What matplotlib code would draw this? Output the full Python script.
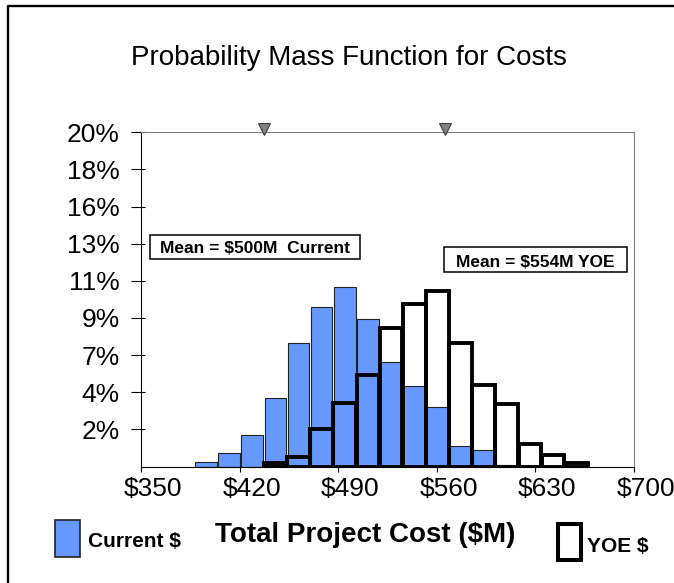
import matplotlib
matplotlib.use('Agg')
import matplotlib.pyplot as plt
from matplotlib.patches import Rectangle
from matplotlib.lines import Line2D
from matplotlib.ticker import FixedLocator
from matplotlib.transforms import ScaledTranslation, blended_transform_factory

plt.rcParams['font.family'] = ['Liberation Sans', 'DejaVu Sans']

W, H, DPI = 674, 583, 100

# bin centres ($M) and probability per bin (%)
bin_centers = [396.1, 412.5, 428.9, 445.4, 461.8, 478.3, 494.7, 511.1, 527.5,
               544.0, 560.4, 576.8, 593.3, 609.7, 626.1, 642.6, 659.0]
current_pct = [0.25, 0.81, 1.87, 4.08, 7.39, 9.53, 10.76, 8.85, 6.25,
               4.84, 3.54, 1.23, 0.99, 0.1, 0, 0, 0]
yoe_pct = [0, 0, 0, 0.2, 0.57, 2.26, 3.82, 5.46, 8.29,
           9.74, 10.49, 7.37, 4.86, 3.74, 1.36, 0.71, 0.2]
mean_marker_x = [437.5, 566.0]
mean_labels = ['Mean = $500M  Current', 'Mean = $554M YOE']
x_ticks = [350, 420, 490, 560, 630, 700]
y_ticks = [20 / 9 * k for k in range(1, 10)]

blue = '#6699ff'


def fx(px):
    return px / W


def fy(py):
    return 1 - py / H


fig = plt.figure(figsize=(W / DPI, H / DPI), dpi=DPI)
ax = fig.add_axes([fx(141), fy(466.5), 493 / W, 334.2 / H])

# Current $ bars
xc = [x for x, v in zip(bin_centers, current_pct) if v > 0]
hc = [v for v in current_pct if v > 0]
ax.bar(xc, hc, width=15.3, color=blue, edgecolor='#222222', linewidth=0.8, zorder=2)

# YOE $ bars (hollow, thick outline, on top)
xy = [x for x, v in zip(bin_centers, yoe_pct) if v > 0]
hy = [v for v in yoe_pct if v > 0]
ax.bar(xy, hy, width=16.1, fill=False, edgecolor='black', linewidth=2.8, zorder=3)

ax.set_xlim(350, 700)
ax.set_ylim(0, 20)

for s in ['top', 'right']:
    ax.spines[s].set_color('#808080')
    ax.spines[s].set_linewidth(0.8)
for s in ['left', 'bottom']:
    ax.spines[s].set_color('black')
    ax.spines[s].set_linewidth(0.8)

ax.set_yticks(y_ticks)
ax.set_yticklabels(['%.0f%%' % v for v in y_ticks])
ax.yaxis.set_minor_locator(FixedLocator(y_ticks))
ax.yaxis.remove_overlapping_locs = False
ax.tick_params(axis='y', which='major', direction='out', length=7.2, width=0.8,
               labelsize=19, pad=8)
ax.tick_params(axis='y', which='minor', direction='in', length=3, width=0.8)

ax.set_xticks(x_ticks)
ax.set_xticklabels(['$%d' % v for v in x_ticks])
ax.tick_params(axis='x', direction='out', length=3.6, width=0.8, labelsize=19, pad=4)
shift = ScaledTranslation(12 / DPI, 0, fig.dpi_scale_trans)
for lab in ax.get_xticklabels():
    lab.set_transform(lab.get_transform() + shift)

# mean markers above the plot
trans = blended_transform_factory(ax.transData, ax.transAxes) + \
    ScaledTranslation(0, 3.3 / DPI, fig.dpi_scale_trans)
ax.plot(mean_marker_x, [1.0, 1.0], 'v', transform=trans, ms=8, mfc='#808080',
        mec='#404040', mew=0.8, clip_on=False, zorder=5)

# mean label boxes
fig.patches.append(Rectangle((fx(150), fy(259)), 210 / W, 24 / H, transform=fig.transFigure,
                             facecolor='white', edgecolor='black', linewidth=1.1))
fig.text(fx(255), fy(253.3), mean_labels[0], ha='center', va='baseline',
         fontsize=12.5, fontweight='bold')
fig.patches.append(Rectangle((fx(444), fy(272)), 183 / W, 25 / H, transform=fig.transFigure,
                             facecolor='white', edgecolor='black', linewidth=1.1))
fig.text(fx(535.5), fy(266.7), mean_labels[1], ha='center', va='baseline',
         fontsize=12.5, fontweight='bold')

# titles
fig.text(fx(348.5), fy(65), 'Probability Mass Function for Costs', ha='center',
         va='baseline', fontsize=20)
fig.text(fx(365.5), fy(541.7), 'Total Project Cost ($M)', ha='center', va='baseline',
         fontsize=20, fontweight='bold')

# legend
fig.patches.append(Rectangle((fx(55), fy(557)), 25 / W, 37 / H, transform=fig.transFigure,
                             facecolor=blue, edgecolor='#222222', linewidth=1.2))
fig.text(fx(88), fy(547), 'Current $', ha='left', va='baseline', fontsize=15,
         fontweight='bold')
fig.patches.append(Rectangle((fx(558), fy(560)), 23 / W, 36 / H, transform=fig.transFigure,
                             fill=False, edgecolor='black', linewidth=2.9))
fig.text(fx(587), fy(552), 'YOE $', ha='left', va='baseline', fontsize=15,
         fontweight='bold')

# outer chart border (runs off the right and bottom edges)
fig.add_artist(Line2D([fx(8), fx(8), 1.05], [-0.05, fy(6), fy(6)],
                      transform=fig.transFigure, color='black', linewidth=1.7,
                      clip_on=False))

fig.savefig('out.png', dpi=DPI)
